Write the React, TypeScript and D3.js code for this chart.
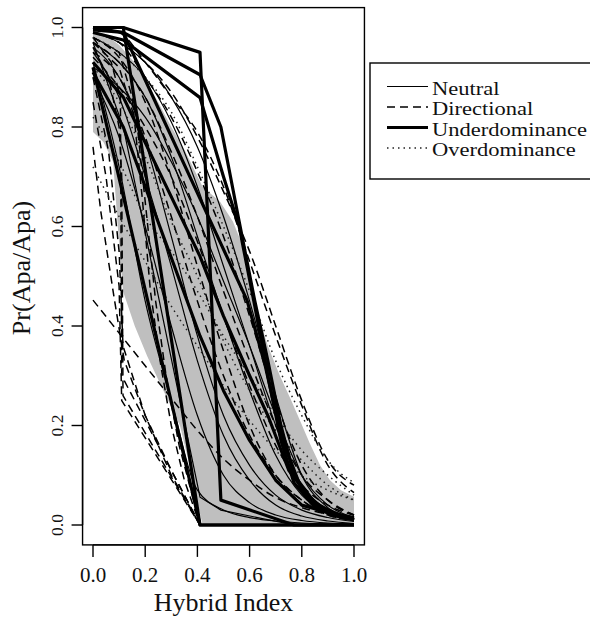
import React from "react";
import * as d3 from "d3";

// ---------- data ----------
const hybridGrid = [0, 0.1, 0.2, 0.3, 0.4, 0.5, 0.6, 0.7, 0.8, 0.9, 1.0];
const xTicks = [0, 0.2, 0.4, 0.6, 0.8, 1.0];
const yTicks = [0, 0.2, 0.4, 0.6, 0.8, 1.0];

const bandUpper: [number, number][] = [
  [0, 0.995], [0.05, 0.985], [0.1, 0.965], [0.15, 0.935], [0.2, 0.895], [0.25, 0.85],
  [0.3, 0.8], [0.35, 0.755], [0.42, 0.68], [0.487, 0.65], [0.536, 0.61], [0.59, 0.54],
  [0.628, 0.43], [0.67, 0.36], [0.716, 0.3], [0.76, 0.25], [0.793, 0.21], [0.83, 0.165],
  [0.87, 0.12], [0.908, 0.09], [0.95, 0.07], [1, 0.057],
];
const bandLower: [number, number][] = [
  [0, 0.79], [0.04, 0.77], [0.077, 0.73], [0.095, 0.6], [0.115, 0.47], [0.16, 0.4],
  [0.207, 0.34], [0.27, 0.27], [0.333, 0.2], [0.37, 0.12], [0.4, 0.045], [0.42, 0], [1, 0],
];

// Neutral (thin solid), values on hybridGrid
const neutralCurves: number[][] = [
  [0.93, 0.72, 0.45, 0.25, 0.07, 0.03, 0.015, 0.008, 0.004, 0.002, 0.001],
  [0.92, 0.88, 0.82, 0.73, 0.62, 0.49, 0.36, 0.22, 0.1, 0.04, 0.015],
  [0.97, 0.93, 0.86, 0.74, 0.58, 0.42, 0.27, 0.14, 0.06, 0.025, 0.01],
  [0.99, 0.97, 0.93, 0.86, 0.76, 0.62, 0.45, 0.26, 0.1, 0.035, 0.012],
  [0.95, 0.86, 0.7, 0.52, 0.33, 0.18, 0.09, 0.04, 0.018, 0.008, 0.003],
  [0.9, 0.78, 0.6, 0.4, 0.22, 0.1, 0.045, 0.02, 0.009, 0.004, 0.002],
  [0.98, 0.95, 0.9, 0.81, 0.68, 0.52, 0.36, 0.2, 0.08, 0.03, 0.012],
  [0.96, 0.9, 0.77, 0.58, 0.38, 0.22, 0.12, 0.06, 0.03, 0.015, 0.007],
];
const neutralKinked: [number, number][][] = [
  [[0, 0.97], [0.116, 0.8], [0.41, 0.056], [0.49, 0.03], [0.77, 0], [1, 0]],
];

// Directional (dashed)
const directionalCurves: number[][] = [
  [0.452, 0.386, 0.32, 0.255, 0.19, 0.133, 0.09, 0.055, 0.035, 0.022, 0.015],
  [1.0, 0.99, 0.93, 0.86, 0.79, 0.68, 0.53, 0.38, 0.24, 0.12, 0.065],
  [0.99, 0.97, 0.93, 0.87, 0.78, 0.67, 0.55, 0.4, 0.25, 0.13, 0.08],
  [0.97, 0.93, 0.86, 0.75, 0.62, 0.47, 0.33, 0.2, 0.1, 0.05, 0.02],
  [0.95, 0.9, 0.78, 0.62, 0.45, 0.3, 0.18, 0.1, 0.05, 0.02, 0.01],
  [0.99, 0.97, 0.9, 0.82, 0.71, 0.58, 0.42, 0.25, 0.12, 0.05, 0.02],
  [0.94, 0.88, 0.8, 0.7, 0.57, 0.42, 0.28, 0.16, 0.08, 0.04, 0.02],
  [0.98, 0.94, 0.85, 0.7, 0.52, 0.35, 0.2, 0.1, 0.05, 0.02, 0.01],
];
const directionalKinked: [number, number][][] = [
  [[0, 0.76], [0.03, 0.63], [0.08, 0.46], [0.12, 0.33], [0.2, 0.22], [0.3, 0.11], [0.41, 0], [1, 0]],
  [[0, 0.85], [0.05, 0.7], [0.1, 0.48], [0.11, 0.25], [0.41, 0], [1, 0]],
  [[0, 0.96], [0.06, 0.9], [0.1, 0.8], [0.11, 0.7], [0.115, 0.26], [0.41, 0], [1, 0]],
  [[0, 0.98], [0.07, 0.93], [0.105, 0.86], [0.11, 0.3], [0.41, 0], [1, 0]],
  [[0, 0.98], [0.1, 0.95], [0.15, 0.86], [0.19, 0.65], [0.22, 0.47], [0.26, 0.32], [0.3, 0.2], [0.35, 0.09], [0.41, 0], [1, 0]],
  [[0, 0.97], [0.1, 0.92], [0.17, 0.8], [0.21, 0.6], [0.24, 0.45], [0.28, 0.3], [0.33, 0.16], [0.41, 0], [1, 0]],
  [[0, 0.9], [0.06, 0.75], [0.1, 0.55], [0.115, 0.36], [0.2, 0.22], [0.3, 0.1], [0.372, 0.036], [0.41, 0], [1, 0]],
];

// Underdominance (thick solid)
const underdominanceLines: [number, number][][] = [
  [[0, 1], [0.116, 1], [0.41, 0.95], [0.49, 0.05], [0.77, 0], [1, 0]],
  [[0, 0.995], [0.116, 0.99], [0.41, 0.905], [0.49, 0.8], [0.56, 0.61], [0.62, 0.45], [0.67, 0.33], [0.72, 0.2], [0.77, 0.1], [0.85, 0.045], [0.93, 0.022], [1, 0.015]],
  [[0, 0.99], [0.116, 0.975], [0.41, 0.859], [0.5, 0.7], [0.56, 0.6], [0.62, 0.44], [0.67, 0.3], [0.72, 0.17], [0.77, 0.085], [0.85, 0.035], [0.93, 0.018], [1, 0.01]],
  [[0, 1], [0.116, 1], [0.41, 0], [1, 0]],
  [[0, 0.92], [0.09, 0.72], [0.41, 0], [1, 0]],
  [[0, 0.93], [0.116, 0.86], [0.41, 0.54], [0.5, 0.42], [0.6, 0.3], [0.67, 0.22], [0.75, 0.11], [0.85, 0.04], [1, 0.01]],
  [[0, 1], [0.116, 0.99], [0.41, 0.656], [0.59, 0.452], [0.66, 0.32], [0.72, 0.18], [0.8, 0.07], [0.9, 0.025], [1, 0.012]],
  [[0, 0.91], [0.116, 0.8], [0.41, 0.38], [0.5, 0.27], [0.6, 0.17], [0.7, 0.09], [0.8, 0.04], [1, 0.01]],
];

// Overdominance (dotted), values on hybridGrid
const overdominanceCurves: number[][] = [
  [0.72, 0.62, 0.53, 0.44, 0.36, 0.28, 0.21, 0.15, 0.1, 0.07, 0.05],
  [0.92, 0.85, 0.74, 0.61, 0.5, 0.37, 0.27, 0.19, 0.13, 0.08, 0.05],
  [0.98, 0.95, 0.9, 0.83, 0.72, 0.6, 0.47, 0.33, 0.22, 0.13, 0.085],
  [0.82, 0.73, 0.62, 0.55, 0.47, 0.38, 0.3, 0.22, 0.15, 0.1, 0.06],
];

const legendLabels = ["Neutral", "Directional", "Underdominance", "Overdominance"];

// ---------- drawing ----------
const W = 590;
const H = 618;
const FONT = "'Liberation Serif', 'Times New Roman', Times, serif";

const x = d3.scaleLinear().domain([0, 1]).range([93, 354]);
const y = d3.scaleLinear().domain([0, 1]).range([525, 27.5]);

const smooth = d3
  .line<[number, number]>()
  .x((d) => x(d[0]))
  .y((d) => y(d[1]))
  .curve(d3.curveMonotoneX);
const linear = d3
  .line<[number, number]>()
  .x((d) => x(d[0]))
  .y((d) => y(d[1]));

const onGrid = (vals: number[]): [number, number][] =>
  vals.map((v, i) => [hybridGrid[i], v]);

const bandPath = (() => {
  const up = linear(bandUpper) || "";
  const low = (linear(bandLower.slice().reverse()) || "").replace(/^M/, "L");
  return up + low + "Z";
})();

const styles = {
  neutral: { stroke: "#000", strokeWidth: 1.2, fill: "none" },
  directional: { stroke: "#000", strokeWidth: 1.5, strokeDasharray: "8,5", fill: "none" },
  under: { stroke: "#000", strokeWidth: 3.2, fill: "none", strokeLinejoin: "round" as const },
  over: { stroke: "#222", strokeWidth: 1.5, strokeDasharray: "1.5,4", fill: "none" },
};

// legend text widths (Times metrics at the reference size)
const legendEm = [3.0, 4.499, 6.887, 6.387];

export default function App() {
  const boxL = x(-0.04);
  const boxR = x(1.04);
  const boxT = y(1.04);
  const boxB = y(-0.04);
  const legendStyles = [styles.neutral, styles.directional, styles.under, styles.over];

  return (
    <svg
      width={W}
      height={H}
      style={{ position: "absolute", left: 0, top: 0, background: "#fff" }}
      fontFamily={FONT}
    >
      <rect x={0} y={0} width={W} height={H} fill="#fff" />
      <defs>
        <clipPath id="plotclip">
          <rect x={boxL} y={boxT} width={boxR - boxL} height={boxB - boxT} />
        </clipPath>
      </defs>
      <g clipPath="url(#plotclip)">
        <path d={bandPath} fill="#bfbfbf" stroke="none" />
        {directionalCurves.map((c, i) => (
          <path key={"dc" + i} d={smooth(onGrid(c)) || ""} {...styles.directional} />
        ))}
        {directionalKinked.map((c, i) => (
          <path key={"dk" + i} d={linear(c) || ""} {...styles.directional} />
        ))}
        {neutralCurves.map((c, i) => (
          <path key={"nc" + i} d={smooth(onGrid(c)) || ""} {...styles.neutral} />
        ))}
        {neutralKinked.map((c, i) => (
          <path key={"nk" + i} d={linear(c) || ""} {...styles.neutral} />
        ))}
        {overdominanceCurves.map((c, i) => (
          <path key={"oc" + i} d={smooth(onGrid(c)) || ""} {...styles.over} />
        ))}
        {underdominanceLines.map((c, i) => (
          <path key={"ud" + i} d={linear(c) || ""} {...styles.under} />
        ))}
      </g>
      <rect x={boxL} y={boxT} width={boxR - boxL} height={boxB - boxT} fill="none" stroke="#000" strokeWidth={1.4} />

      {/* x axis */}
      <line x1={x(0)} x2={x(1)} y1={boxB} y2={boxB} stroke="#000" strokeWidth={1.4} />
      {xTicks.map((t) => (
        <g key={"xt" + t}>
          <line x1={x(t)} x2={x(t)} y1={boxB} y2={boxB + 12} stroke="#000" strokeWidth={1.4} />
          <text x={x(t)} y={582} fontSize={21} textAnchor="middle" fill="#111">
            {t.toFixed(1)}
          </text>
        </g>
      ))}
      <text x={(x(0) + x(1)) / 2} y={611} fontSize={26} textAnchor="middle" fill="#111">
        Hybrid Index
      </text>

      {/* y axis */}
      <line x1={boxL} x2={boxL} y1={y(0)} y2={y(1)} stroke="#000" strokeWidth={1.4} />
      {yTicks.map((t) => (
        <g key={"yt" + t}>
          <line x1={boxL - 11} x2={boxL} y1={y(t)} y2={y(t)} stroke="#000" strokeWidth={1.4} />
          <text
            transform={`translate(63,${y(t)}) rotate(-90)`}
            fontSize={17.5}
            textAnchor="middle"
            fill="#111"
          >
            {t.toFixed(1)}
          </text>
        </g>
      ))}
      <text transform={`translate(29.5,268) rotate(-90)`} fontSize={26} textAnchor="middle" fill="#111">
        Pr(Apa/Apa)
      </text>

      {/* legend */}
      <rect x={370} y={63} width={240} height={116} fill="#fff" stroke="#000" strokeWidth={1.4} />
      {legendLabels.map((lab, i) => {
        const base = 94.5 + i * 20.5;
        return (
          <g key={lab}>
            <line x1={387} x2={428} y1={base - 8} y2={base - 8} {...legendStyles[i]} />
            <text
              x={432}
              y={base}
              fontSize={19.5}
              fill="#111"
              textLength={legendEm[i] * 22.5}
              lengthAdjust="spacingAndGlyphs"
            >
              {lab}
            </text>
          </g>
        );
      })}
    </svg>
  );
}
